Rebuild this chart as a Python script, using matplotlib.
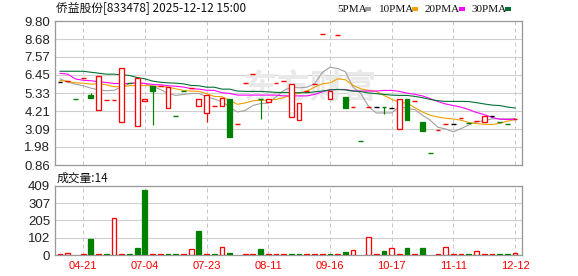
import matplotlib
matplotlib.use("Agg")
import matplotlib.pyplot as plt
from matplotlib.patches import Rectangle
import numpy as np

plt.rcParams['font.family'] = ['Liberation Sans', 'Noto Sans CJK SC', 'DejaVu Sans']

# ---------------- data ----------------
title = "侨益股份[833478] 2025-12-12 15:00"
date_ticks = [3, 11, 19, 27, 35, 43, 51, 59]
date_labels = ["04-21", "07-04", "07-23", "08-11", "09-16", "10-17", "11-11", "12-12"]

opens = [6.03, 6.09, 4.98, 6.29, 5.22, 4.30, 4.87, 4.92, 3.50, 5.92,
         3.29, 4.81, 5.78, 5.75, 4.42, 3.93, 5.48, 5.62, 4.54, 4.11,
         4.50, 4.54, 4.93, 3.43, 5.98, 6.52, 4.97, 4.79, 5.98, 6.09,
         3.84, 3.64, 5.47, 5.90, 8.99, 4.95, 8.93, 5.08, 4.46, 2.32,
         4.46, 4.46, 4.46, 4.42, 3.12, 4.97, 4.86, 3.50, 1.58, 3.01,
         3.43, 3.43, 3.75, 3.45, 3.62, 3.50, 3.93, 3.50, 3.43, 3.74]
closes = [6.03, 6.09, 4.98, 6.29, 5.01, 6.40, 4.87, 4.92, 6.89, 5.92,
          6.25, 4.95, 5.47, 5.75, 5.70, 3.93, 5.48, 5.62, 4.97, 5.22,
          4.50, 4.99, 2.61, 3.43, 5.98, 6.52, 4.97, 4.97, 5.98, 6.09,
          5.90, 4.73, 5.47, 5.90, 8.99, 5.45, 8.93, 4.42, 4.46, 2.32,
          4.46, 4.46, 4.46, 4.42, 4.95, 3.68, 4.86, 2.98, 1.58, 3.01,
          3.43, 3.43, 3.75, 3.45, 3.62, 3.93, 3.93, 3.50, 3.43, 3.74]
highs = [6.03, 6.09, 4.98, 6.29, 5.30, 6.40, 4.87, 4.92, 6.89, 5.92,
         6.25, 4.95, 5.78, 5.75, 5.70, 3.93, 5.48, 5.62, 4.97, 5.22,
         4.50, 4.99, 4.93, 3.43, 5.98, 6.52, 4.97, 4.97, 5.98, 6.09,
         5.90, 4.73, 5.47, 5.90, 8.99, 5.45, 8.93, 5.08, 4.46, 2.32,
         4.46, 4.46, 4.46, 4.42, 4.95, 4.97, 4.86, 3.50, 1.58, 3.01,
         3.43, 3.43, 3.75, 3.45, 3.62, 3.93, 3.93, 3.50, 3.43, 3.74]
lows = [6.03, 6.09, 4.98, 6.29, 5.01, 4.30, 4.87, 4.92, 3.50, 5.92,
        3.29, 4.81, 3.37, 5.75, 4.42, 3.93, 5.48, 5.62, 4.54, 3.53,
        4.50, 4.54, 2.61, 3.43, 5.98, 6.52, 3.73, 4.79, 5.98, 6.09,
        3.84, 3.64, 5.47, 5.90, 8.99, 4.95, 8.93, 4.42, 4.46, 2.32,
        4.46, 4.46, 4.05, 4.42, 3.12, 3.68, 4.86, 2.98, 1.58, 3.01,
        3.43, 3.43, 3.75, 3.45, 3.62, 3.50, 3.93, 3.50, 3.43, 3.74]
# direction of candles whose open equals close: u = red, d = green, f = black
flat_dir = {0: "f", 1: "u", 2: "d", 3: "u", 6: "u", 7: "u", 9: "d", 13: "u",
            15: "d", 16: "d", 17: "u", 20: "u", 23: "u", 24: "u", 25: "u",
            26: "d", 28: "u", 29: "u", 32: "u", 33: "u", 34: "u", 36: "u",
            38: "u", 39: "d", 40: "u", 41: "f", 42: "d", 43: "f", 46: "u",
            48: "d", 49: "u", 50: "u", 51: "f", 52: "u", 53: "d", 54: "u",
            56: "f", 57: "d", 58: "d", 59: "u"}

ma5 = [6.21, 6.00, 5.88, 5.78, 5.63, 5.53, 5.47, 5.50, 5.70, 5.92,
       5.96, 5.92, 5.75, 5.55, 5.30, 5.18, 5.24, 5.30, 5.30, 5.10,
       4.95, 4.80, 4.45, 4.15, 4.25, 4.55, 4.68, 4.70, 5.08, 5.49,
       5.69, 5.65, 5.69, 5.90, 6.60, 6.93, 6.85, 6.65, 5.69, 5.30,
       4.50, 4.09, 4.09, 4.09, 4.50, 4.36, 4.30, 3.95, 3.64, 3.20,
       3.10, 2.92, 3.12, 3.35, 3.53, 3.62, 3.72, 3.74, 3.73, 3.72]
ma10 = [6.11, 6.05, 5.96, 5.94, 5.88, 5.90, 5.84, 5.72, 5.72, 5.78,
        5.80, 5.80, 5.76, 5.74, 5.70, 5.59, 5.49, 5.45, 5.43, 5.29,
        5.12, 5.10, 4.87, 4.63, 4.71, 4.85, 4.87, 4.90, 4.93, 5.04,
        5.20, 5.32, 5.45, 5.69, 5.90, 5.96, 6.21, 6.15, 5.80, 5.59,
        5.49, 5.43, 5.18, 4.95, 4.75, 4.71, 4.42, 4.15, 3.95, 3.84,
        3.76, 3.72, 3.64, 3.50, 3.43, 3.39, 3.37, 3.45, 3.58, 3.68]
ma20 = [6.55, 6.50, 6.20, 6.12, 6.09, 6.03, 5.98, 5.92, 5.92, 5.92,
        5.96, 5.92, 5.86, 5.84, 5.78, 5.75, 5.70, 5.60, 5.57, 5.50,
        5.49, 5.35, 5.30, 5.20, 5.20, 5.20, 5.20, 5.20, 5.20, 5.15,
        5.15, 5.15, 5.15, 5.24, 5.40, 5.53, 5.55, 5.55, 5.45, 5.45,
        5.45, 5.45, 5.49, 5.49, 5.43, 5.32, 5.25, 5.15, 4.98, 4.80,
        4.65, 4.55, 4.45, 4.30, 4.12, 3.99, 3.82, 3.70, 3.68, 3.72]
ma30 = [6.68, 6.68, 6.68, 6.68, 6.62, 6.56, 6.50, 6.50, 6.46, 6.42,
        6.29, 6.21, 6.07, 6.00, 5.96, 5.94, 5.90, 5.80, 5.78, 5.69,
        5.69, 5.57, 5.57, 5.45, 5.43, 5.43, 5.43, 5.40, 5.37, 5.36,
        5.35, 5.35, 5.35, 5.40, 5.45, 5.52, 5.55, 5.52, 5.45, 5.42,
        5.33, 5.29, 5.24, 5.20, 5.18, 5.18, 5.12, 5.04, 4.93, 4.85,
        4.81, 4.81, 4.81, 4.80, 4.73, 4.65, 4.58, 4.55, 4.46, 4.40]

volume = [3, 10, 0, 3, 94, 3, 3, 219, 3, 3,
          40, 383, 3, 3, 3, 3, 3, 36, 142, 3,
          3, 45, 12, 0, 3, 3, 36, 3, 3, 3,
          3, 3, 3, 3, 3, 3, 3, 18, 30, 0,
          105, 3, 24, 41, 3, 41, 3, 41, 0, 3,
          45, 3, 3, 3, 24, 3, 3, 3, 3, 14]
volume_dir = ["u", "u", "u", "u", "d", "u", "d", "u", "u", "d",
              "d", "d", "u", "u", "d", "d", "u", "u", "d", "u",
              "d", "u", "d", "u", "u", "u", "d", "u", "u", "u",
              "d", "d", "u", "u", "u", "d", "u", "d", "u", "u",
              "u", "u", "d", "u", "u", "d", "u", "d", "u", "u",
              "u", "u", "u", "d", "u", "u", "u", "d", "d", "u"]
last_volume = 14

price_ticks = ["0.86", "1.98", "3.09", "4.21", "5.33", "6.45", "7.57", "8.68", "9.80"]
vol_ticks = [0, 102, 205, 307, 409]

ma_names = ["5PMA", "10PMA", "20PMA", "30PMA"]

# ---------------- style ----------------
RED = "#ff0000"
GREEN = "#008000"
BLACK = "#000000"
MA_COLORS = ["#a0a0a0", "#f0a000", "#ff00ff", "#007030"]
SPINE = "#999999"
GRID = "#d0d0d0"
PX = 0.72  # one pixel in points at dpi 100

W, H = 578, 276
fig = plt.figure(figsize=(W / 100, H / 100), dpi=100)
fig.patch.set_facecolor("white")

def frac_box(x0, y0, x1, y1):
    return [x0 / W, 1 - y1 / H, (x1 - x0) / W, (y1 - y0) / H]

ax = fig.add_axes(frac_box(55, 21, 522, 165))
axv = fig.add_axes(frac_box(55, 186, 522, 255))

n = len(opens)
xs = np.arange(n)
XLIM = (-0.65, 59.9)
BW = 0.62
COLORS = {"u": RED, "d": GREEN, "f": BLACK}

for a in (ax, axv):
    a.set_xlim(*XLIM)
    for s in a.spines.values():
        s.set_color(SPINE)
        s.set_linewidth(1.3 * PX)
    a.tick_params(length=0)
    for t in date_ticks:
        a.axvline(t, color="#c8c8c8", lw=PX, ls=(0, (4, 3)), zorder=0)

# price axis
pvals = [float(s) for s in price_ticks]
ax.set_ylim(pvals[0], pvals[-1])
ax.set_yticks(pvals)
ax.set_yticklabels(price_ticks, fontsize=9.5, color="#222222")
for v in pvals[1:-1]:
    ax.axhline(v, color=GRID, lw=1.1 * PX, zorder=0)
ax.set_xticks([])

# watermark
ax.text(0.545, 0.53, "东方财富", transform=ax.transAxes, fontsize=24,
        color="#e9e9e9", ha="center", va="center", fontweight="bold",
        family=["Noto Sans CJK SC"], zorder=0.5)

# moving averages
for vals, c in zip([ma5, ma10, ma20, ma30], MA_COLORS):
    ax.plot(xs, vals, color=c, lw=1.1 * PX, zorder=2)

# candles
for i in range(n):
    o, h, l, c = opens[i], highs[i], lows[i], closes[i]
    if c > o:
        d = "u"
    elif c < o:
        d = "d"
    else:
        d = flat_dir.get(i, "f")
    col = COLORS[d]
    lo, hi = min(o, c), max(o, c)
    if hi - lo < 0.02:
        ax.hlines(o, i - BW / 2, i + BW / 2, color=col, lw=1.4 * PX, zorder=3)
    else:
        face = "white" if d == "u" else col
        ax.add_patch(Rectangle((i - BW / 2, lo), BW, hi - lo, facecolor=face,
                               edgecolor=col, lw=1.3 * PX, zorder=3))
    if l < lo - 0.01:
        ax.vlines(i, l, lo, color=col, lw=1.2 * PX, zorder=3)
    if h > hi + 0.01:
        ax.vlines(i, hi, h, color=col, lw=1.2 * PX, zorder=3)

# volume
axv.set_ylim(0, 409)
axv.set_yticks(vol_ticks)
axv.set_yticklabels([str(v) for v in vol_ticks], fontsize=9.5, color="#222222")
for v in vol_ticks[1:-1]:
    axv.axhline(v, color=GRID, lw=1.1 * PX, zorder=0)
axv.set_xticks(date_ticks)
axv.set_xticklabels(date_labels, fontsize=8, color=RED)
axv.tick_params(axis="x", pad=4)
for i in range(n):
    v = volume[i]
    if v <= 0:
        continue
    col = COLORS[volume_dir[i]]
    face = "white" if volume_dir[i] == "u" else col
    axv.add_patch(Rectangle((i - BW / 2, 0), BW, v, facecolor=face,
                            edgecolor=col, lw=1.3 * PX, zorder=3))

# title and labels
fig.text(56 / W, 1 - 8.5 / H, title, fontsize=8.5, va="center", ha="left",
         color="#111111", family=["Noto Sans CJK SC", "DejaVu Sans"])
fig.text(57 / W, 1 - 178 / H, "成交量:" + str(last_volume), fontsize=8.5,
         va="center", ha="left", color="#111111",
         family=["Noto Sans CJK SC", "DejaVu Sans"])

# legend
leg_text_x = [337, 379, 425, 471]
leg_mark_x = [365, 412, 459, 505]
for name, c, x0, m0 in zip(ma_names, MA_COLORS, leg_text_x, leg_mark_x):
    fig.text(x0 / W, 1 - 9 / H, name, fontsize=8, va="center", ha="left",
             color="#111111", family=["Liberation Serif"])
    fig.patches.append(Rectangle((m0 / W, 1 - 10.5 / H), 6 / W, 3 / H,
                                 transform=fig.transFigure, facecolor=c,
                                 edgecolor="none"))

fig.savefig("out.png", dpi=100)
